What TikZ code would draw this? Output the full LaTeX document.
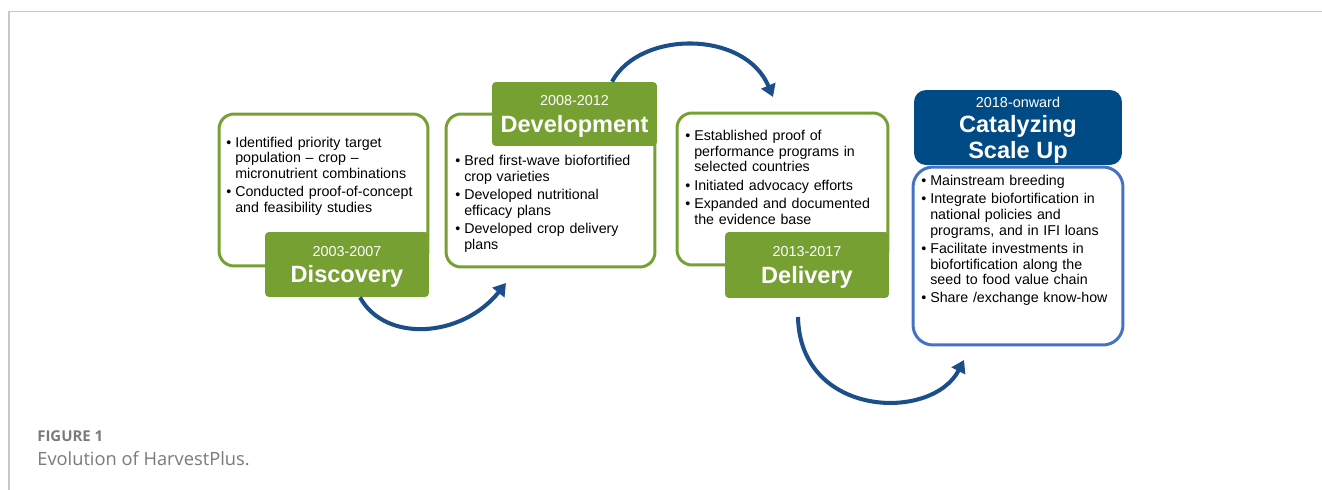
\documentclass[tikz,border=0pt]{standalone}
\usepackage{fontspec}
\setmainfont{Liberation Sans}
\newfontfamily\capfont{Open Sans}
\usetikzlibrary{arrows.meta}

\definecolor{stagegreen}{HTML}{77A033}
\definecolor{scalenavy}{HTML}{004A86}
\definecolor{scaleline}{HTML}{4472C4}
\definecolor{arrowblue}{HTML}{1C4E8A}
\definecolor{framegrey}{HTML}{C8C8C8}
\definecolor{capgrey}{HTML}{7A7A7A}

\newcommand{\bul}{\par\hangindent=5.1pt\hangafter=1\noindent\makebox[5.1pt][l]{•}}
\newcommand{\tagtitle}{\fontsize{13.4}{15}\selectfont\bfseries}

\tikzset{
	stagebody/.style={draw=stagegreen, line width=1.7pt, rounded corners=0.3cm, fill=white},
	stagetag/.style={fill=#1, rounded corners=0.08cm, text=white, align=center, inner sep=0,
		text depth=0pt, font=\fontsize{8.2}{15}\selectfont},
	stagetag/.default=stagegreen,
	stagetext/.style={anchor=north west, inner sep=0, text width=4.2cm, align=left,
		font=\fontsize{8.1}{8.9}\selectfont, execute at begin node=\setlength{\parskip}{1.5pt}},
	flowarrow/.style={draw=arrowblue, line width=2.3pt, -{Triangle[length=7pt,width=8.5pt]}}
}

\begin{document}
\begin{tikzpicture}[x=0.02cm, y=-0.02cm]
				\useasboundingbox (0,0) rectangle (1322,490);
				\draw[framegrey, line width=0.85pt] (9,490) -- (9,11.5) -- (1322,11.5);
				
				% discovery
				\node[stagebody, minimum width=4.18cm, minimum height=3.04cm] (disc box) at (323.5,190) {};
				\node[stagetext] (disc text) at (226,128.5) {\bul Identified priority target\newline population – crop –\newline micronutrient combinations\bul Conducted proof-of-concept\newline and feasibility studies\par};
				\node[stagetag, minimum width=3.28cm, minimum height=1.3cm] (disc tag) at (347,264.5) {2003-2007\\\tagtitle Discovery};
				
				% development
				\node[stagebody, minimum width=4.18cm, minimum height=3.06cm] (devel box) at (550.5,190.5) {};
				\node[stagetext] (devel text) at (455,147) {\bul Bred first-wave biofortified\newline crop varieties\bul Developed nutritional\newline efficacy plans\bul Developed crop delivery\newline plans\par};
				\node[stagetag, minimum width=3.3cm, minimum height=1.28cm] (devel tag) at (574.5,114) {2008-2012\\\tagtitle Development};
				
				% delivery
				\node[stagebody, minimum width=4.22cm, minimum height=3.04cm] (deliv box) at (782.5,189) {};
				\node[stagetext] (deliv text) at (685,122) {\bul Established proof of\newline performance programs in\newline selected countries\bul Initiated advocacy efforts\bul Expanded and documented\newline the evidence base\par};
				\node[stagetag, minimum width=3.28cm, minimum height=1.32cm] (deliv tag) at (807,265) {2013-2017\\\tagtitle Delivery};
				
				% scale up
				\node[stagebody, draw=scaleline, rounded corners=0.4cm, minimum width=4.2cm, minimum height=3.56cm] (scale box) at (1018,256) {};
				\node[stagetext] (scale text) at (921,167) {\bul Mainstream breeding\bul Integrate biofortification in\newline national policies and\newline programs, and in IFI loans\bul Facilitate investments in\newline biofortification along the\newline seed to food value chain\bul Share /exchange know-how\par};
				\node[stagetag=scalenavy, rounded corners=0.24cm, minimum width=4.16cm, minimum height=1.5cm, font=\fontsize{8.2}{14.5}\selectfont] (scale tag) at (1018,127.5) {2018-onward\\\tagtitle Catalyzing\\\tagtitle Scale Up};
				
				% arrows between stages
				\coordinate (arr1 end) at (506,283);
				\coordinate (arr2 end) at (773,97);
				\coordinate (arr3 start) at (798,317);
				\coordinate (arr3 end) at (964,360);
				\draw[flowarrow] ([xshift=0.26cm]disc tag.south) .. controls (385,343) and (462,338) .. (arr1 end);
				\draw[flowarrow] ([xshift=0.75cm]devel tag.north) .. controls (640,30) and (745,30) .. (arr2 end);
				\draw[flowarrow] (arr3 start) .. controls (800,418) and (932,422) .. (arr3 end);
				
				\node[anchor=base west, inner sep=0, text=capgrey, font=\capfont\bfseries\fontsize{8.5}{10}\selectfont] (fig num) at (37,441) {FIGURE 1};
				\node[anchor=base west, inner sep=0, text=capgrey, font=\capfont\fontsize{10.4}{12}\selectfont] (fig title) at (37,465) {Evolution of HarvestPlus.};
\end{tikzpicture}
\end{document}
